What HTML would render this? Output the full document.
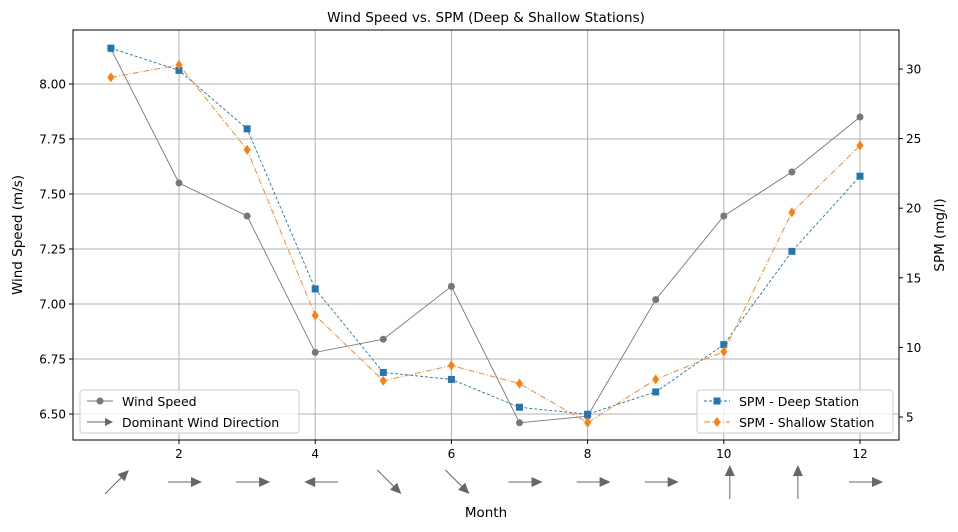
<!DOCTYPE html>
<html><head><meta charset="utf-8"><style>
body{margin:0;background:#fff;}
svg{font-family:"DejaVu Sans","Liberation Sans",sans-serif;}
</style></head><body>
<svg id="chart" width="958" height="527"></svg>
<script>
const months=[1,2,3,4,5,6,7,8,9,10,11,12];
const windSpeed=[8.16,7.55,7.40,6.78,6.84,7.08,6.46,6.49,7.02,7.40,7.60,7.85];
const spmDeep=[31.5,29.9,25.7,14.2,8.2,7.7,5.7,5.2,6.8,10.2,16.9,22.3];
const spmShallow=[29.4,30.3,24.2,12.3,7.6,8.7,7.4,4.6,7.7,9.7,19.7,24.5];
const windDirDeg=[45,0,0,180,-45,-45,0,0,0,90,90,0];
const xTicks=[2,4,6,8,10,12];
const yLeftTicks=[6.50,6.75,7.00,7.25,7.50,7.75,8.00];
const yRightTicks=[5,10,15,20,25,30];

const L=73,R=899,T=30,B=440;
const X=m=>179+(m-2)*68.1;
const YL=v=>84+(8-v)*220;
const YR=v=>69+(30-v)*13.92;
const svg=document.getElementById('chart');
const NS='http://www.w3.org/2000/svg';
function el(tag,attrs,parent){const e=document.createElementNS(NS,tag);for(const k in attrs)e.setAttribute(k,attrs[k]);(parent||svg).appendChild(e);return e;}
function txt(s,attrs){const e=el('text',attrs);e.textContent=s;return e;}

const grid=el('g',{});


xTicks.forEach(m=>{el('line',{x1:X(m),x2:X(m),y1:T,y2:B,stroke:'#b0b0b0','stroke-width':1},grid);});
yLeftTicks.forEach(v=>{el('line',{x1:L,x2:R,y1:YL(v),y2:YL(v),stroke:'#b0b0b0','stroke-width':1},grid);});

const frame=el('rect',{x:L,y:T,width:R-L,height:B-T,fill:'none',stroke:'#000','stroke-width':1});



xTicks.forEach(m=>{el('line',{x1:X(m),x2:X(m),y1:B,y2:B+4,stroke:'#000'});
 const t=txt(String(m),{x:X(m),y:B+18,'font-size':12,'text-anchor':'middle'});
 });
yLeftTicks.forEach(v=>{el('line',{x1:L-4,x2:L,y1:YL(v),y2:YL(v),stroke:'#000'});
 const t=txt(v.toFixed(2),{x:L-7,y:YL(v)+4.5,'font-size':12,'text-anchor':'end'});
 });
yRightTicks.forEach(v=>{el('line',{x1:R,x2:R+4,y1:YR(v),y2:YR(v),stroke:'#000'});
 const t=txt(String(v),{x:R+7,y:YR(v)+4.5,'font-size':12});
 });

let t=txt('Wind Speed vs. SPM (Deep & Shallow Stations)',{x:486,y:22,'font-size':13.5,'text-anchor':'middle'});

t=txt('Month',{x:486,y:517,'font-size':13.5,'text-anchor':'middle'});

t=txt('Wind Speed (m/s)',{x:22,y:235,'font-size':13.5,'text-anchor':'middle',transform:'rotate(-90 22 235)'});

t=txt('SPM (mg/l)',{x:944,y:235,'font-size':13.5,'text-anchor':'middle',transform:'rotate(-90 944 235)'});


function marker(g,type,x,y,color){
 if(type==='o')return el('circle',{cx:x,cy:y,r:3.5,fill:color},g);
 if(type==='s')return el('rect',{x:x-3.5,y:y-3.5,width:7,height:7,fill:color},g);
 return el('polygon',{points:`${x},${y-5} ${x+3.5},${y} ${x},${y+5} ${x-3.5},${y}`,fill:color},g);
}
function series(name,vals,yf,color,dash,mk){
 const g=el('g',{});
 
 
 el('polyline',{points:vals.map((v,i)=>X(months[i])+','+yf(v)).join(' '),fill:'none',stroke:color,'stroke-width':0.9,'stroke-dasharray':dash},g);
 vals.forEach((v,i)=>{const m=marker(g,mk,X(months[i]),yf(v),color);
  
  });
}
series('wind-speed-line',windSpeed,YL,'#777777','none','o');
series('spm-deep-line',spmDeep,YR,'#1f77b4','3 2','s');
series('spm-shallow-line',spmShallow,YR,'#ff7f0e','6 2 1 2','d');

const ag=el('g',{});


windDirDeg.forEach((d,i)=>{
 const cx=X(months[i])+6,cy=482;
 const a=el('g',{transform:`translate(${cx},${cy}) rotate(${-d})`},ag);
 
 
 el('line',{x1:-17,y1:0,x2:8,y2:0,stroke:'#666','stroke-width':1},a);
 el('polygon',{points:'17,0 6,-5 6,5',fill:'#666'},a);
});

function legend(x,y,w,items,name){
 const g=el('g',{});
 
 
 el('rect',{x:x,y:y,width:w,height:43,rx:3,fill:'#fff','fill-opacity':0.8,stroke:'#ccc'},g);
 items.forEach((it,i)=>{
  const yy=y+11+i*21;
  const e=el('g',{},g);
  
  
  if(it.mk==='arrow'){el('line',{x1:x+7,x2:x+26,y1:yy,y2:yy,stroke:'#666'},e);el('polygon',{points:`${x+33},${yy} ${x+25},${yy-4} ${x+25},${yy+4}`,fill:'#666'},e);}
  else{el('line',{x1:x+7,x2:x+33,y1:yy,y2:yy,stroke:it.c,'stroke-dasharray':it.dash},e);marker(e,it.mk,x+20,yy,it.c);}
  const tt=el('text',{x:x+42,y:yy+5,'font-size':12.5},e);tt.textContent=it.t;
 });
}
legend(80,390,219,[{t:'Wind Speed',c:'#777',mk:'o',dash:'none'},{t:'Dominant Wind Direction',mk:'arrow'}],'legend-left');
legend(697,390,196,[{t:'SPM - Deep Station',c:'#1f77b4',mk:'s',dash:'3 2'},{t:'SPM - Shallow Station',c:'#ff7f0e',mk:'d',dash:'6 2 1 2'}],'legend-right');
</script>
</body></html>
